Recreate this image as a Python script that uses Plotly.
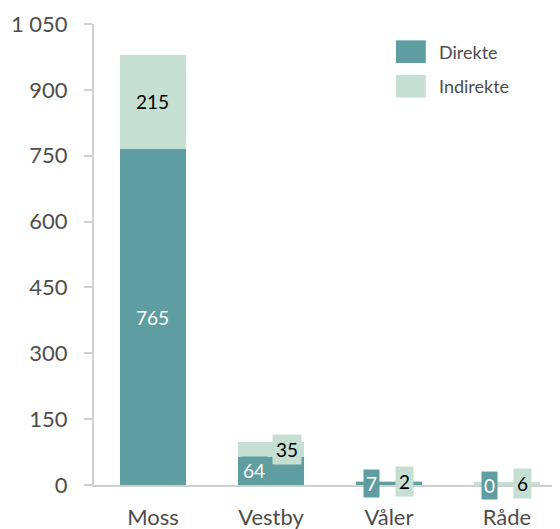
import plotly.graph_objects as go

categories = ["Moss", "Vestby", "Våler", "Råde"]
direkte = [765, 64, 7, 0]
indirekte = [215, 35, 2, 6]
series_names = ["Direkte", "Indirekte"]
y_ticks = [0, 150, 300, 450, 600, 750, 900, 1050]

DARK = "#5f9ea0"
LIGHT = "#c5dfd2"
TEXT = "#4d4d4d"
FONT = "Lato, 'Open Sans', sans-serif"

fig = go.Figure()
fig.add_bar(x=categories, y=direkte, name=series_names[0], marker_color=DARK,
            marker_line_width=0, width=0.56, showlegend=False)
fig.add_bar(x=categories, y=indirekte, name=series_names[1], marker_color=LIGHT,
            marker_line_width=0, width=0.56, showlegend=False)

# data labels at segment midpoints
for cat, d, i in zip(categories, direkte, indirekte):
    small = (d + i) < 150
    fig.add_annotation(x=cat, y=d / 2, text=str(d), showarrow=False,
                       font=dict(family=FONT, size=19, color="white"),
                       bgcolor=DARK, borderpad=2,
                       xshift=-17 if small else 0)
    fig.add_annotation(x=cat, y=d + i / 2, text=str(i), showarrow=False,
                       font=dict(family=FONT, size=19, color="black"),
                       bgcolor=LIGHT, borderpad=3,
                       xshift=16 if small else 0)

# custom legend
legend_items = [(series_names[0], DARK, 0.940), (series_names[1], LIGHT, 0.865)]
for name, col, yc in legend_items:
    fig.add_shape(type="rect", xref="paper", yref="paper",
                  x0=0.648, x1=0.712, y0=yc - 0.0245, y1=yc + 0.0245,
                  fillcolor=col, line_width=0)
    fig.add_annotation(xref="paper", yref="paper", x=0.737, y=yc, text=name,
                       xanchor="left", yanchor="middle", showarrow=False,
                       font=dict(family=FONT, size=18, color=TEXT))

fig.update_layout(
    width=552, height=521,
    margin=dict(l=86, r=0, t=16, b=44),
    barmode="stack",
    plot_bgcolor="white", paper_bgcolor="white",
    separators=", ",
    font=dict(family=FONT, color=TEXT),
    showlegend=False,
)
fig.update_xaxes(range=[-0.5, 3.45], showline=True, linecolor="#d0d0d0", linewidth=2,
                 ticks="", showgrid=False, tickfont=dict(size=22, color=TEXT),
                 ticklabelstandoff=12, zeroline=False, automargin=False)
fig.update_yaxes(range=[0, 1050], tickvals=y_ticks, tickformat=",d", showline=True,
                 linecolor="#d0d0d0", linewidth=2, ticks="outside", ticklen=8,
                 tickcolor="#d0d0d0", tickwidth=2, showgrid=False, zeroline=False,
                 tickfont=dict(size=22, color=TEXT), ticklabelstandoff=12,
                 automargin=False)

fig.write_html("out.html")
